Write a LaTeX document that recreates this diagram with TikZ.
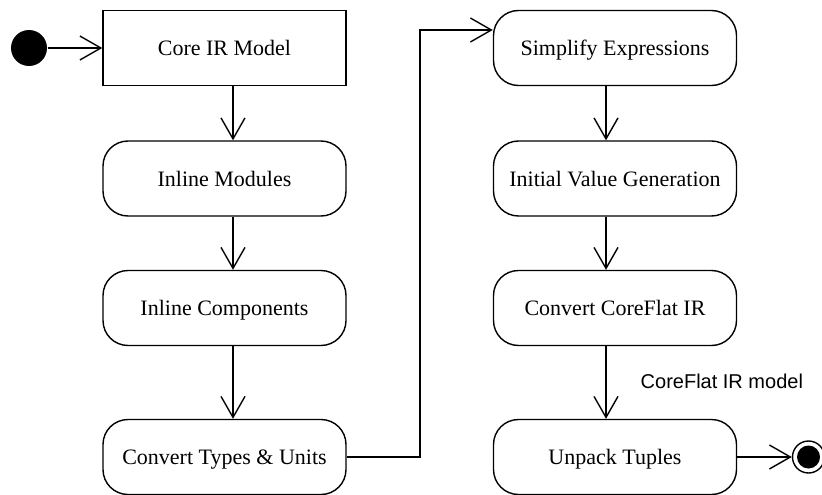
\documentclass[tikz,border=0pt]{standalone}
\usepackage{fontspec}
\setmainfont{Liberation Serif}
\newfontfamily\labelfont{Liberation Sans}
\usetikzlibrary{arrows.meta}
\begin{document}
\begin{tikzpicture}[x=1pt, y=-1pt, line width=1.4pt,
  actbox/.style={draw, minimum width=243pt, minimum height=75pt, inner sep=0pt,
    font=\fontsize{22}{24}\selectfont, text height=15pt, text depth=0pt},
  action/.style={actbox, rounded corners=25pt},
  flow/.style={-{Straight Barb[length=21pt,width=24pt]}},
  edgelabel/.style={font=\labelfont\fontsize{20}{22}\selectfont, inner sep=0pt}
]
\useasboundingbox (0,0) rectangle (822,495);

% left column
\node[actbox]  (core)  at (224.5,48)    {Core IR Model};
\node[action]  (mods)  at (224.5,178.5) {Inline Modules};
\node[action]  (comps) at (224.5,308)   {Inline Components};
\node[action]  (units) at (224.5,457)   {Convert Types \& Units};

% right column
\node[action]  (simp)  at (615,48)    {Simplify Expressions};
\node[action]  (init)  at (615,178.5) {Initial Value Generation};
\node[action]  (flat)  at (615,308)   {Convert CoreFlat IR};
\node[action]  (unp)   at (615,457)   {Unpack Tuples};

% initial and final states
\node[circle, fill, minimum size=36pt, inner sep=0pt] (start) at (29,48) {};
\node[circle, draw, minimum size=32pt, inner sep=0pt] (final) at (808.5,457) {};
\node[circle, fill, minimum size=23pt, inner sep=0pt] (finaldot) at (808.5,457) {};

% guide coordinates for the vertical flows and the column change
\coordinate (colL) at (233,0);
\coordinate (colR) at (606,0);
\coordinate (bend) at (420,30);

\draw[flow] (start) -- (core.west);
\draw[flow] (core.south -| colL)  -- (mods.north -| colL);
\draw[flow] (mods.south -| colL)  -- (comps.north -| colL);
\draw[flow] (comps.south -| colL) -- (units.north -| colL);
\draw[flow] (units.east) -| (bend) -- (bend -| simp.west);
\draw[flow] (simp.south -| colR)  -- (init.north -| colR);
\draw[flow] (init.south -| colR)  -- (flat.north -| colR);
\draw[flow] (flat.south -| colR)  -- (unp.north -| colR);
\draw[flow] (unp.east) -- (final.west);

\node[edgelabel, anchor=base west] (lbl) at (640,388) {CoreFlat IR model};
\end{tikzpicture}
\end{document}
